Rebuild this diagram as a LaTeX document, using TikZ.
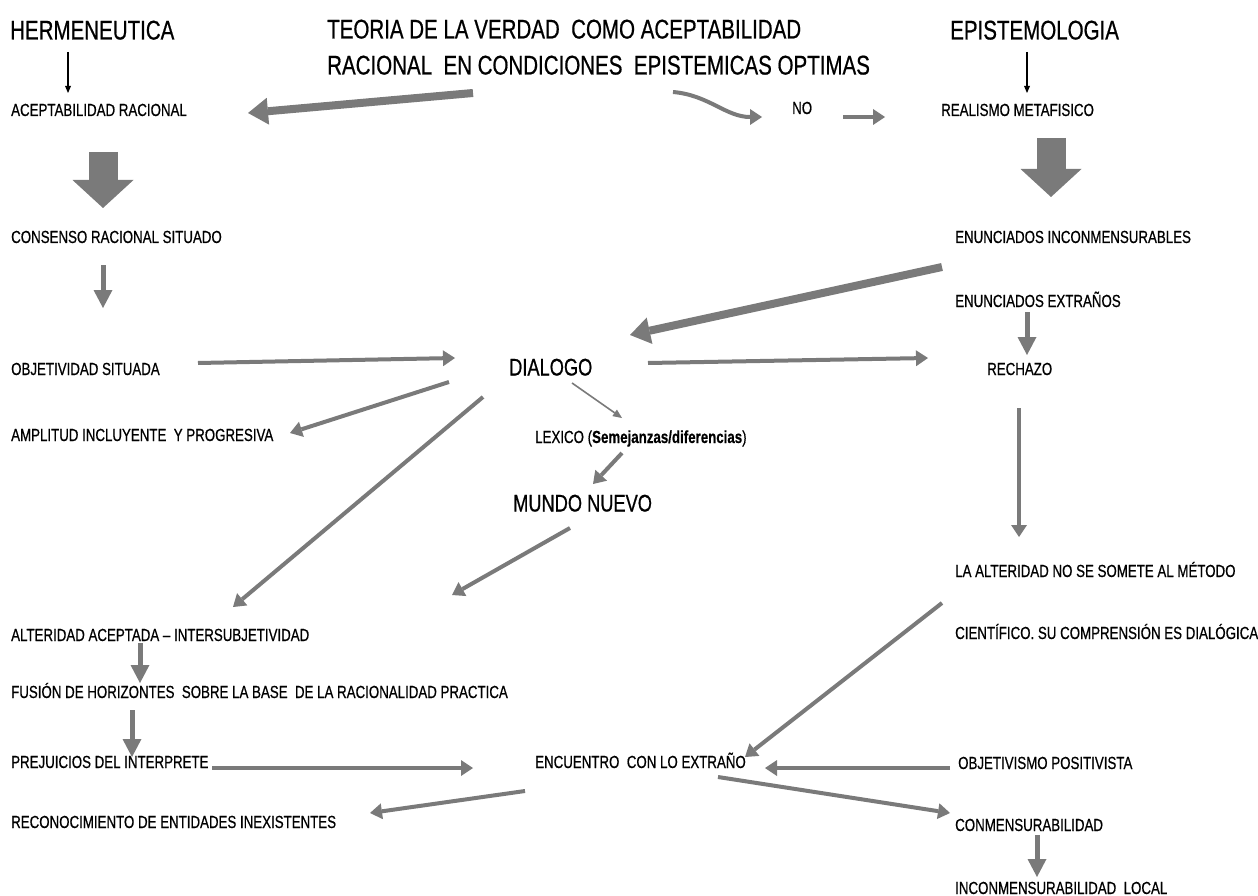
\documentclass[tikz,border=0pt]{standalone}
\usepackage{fontspec}
\setmainfont{Liberation Sans}[FakeStretch=0.76, FakeBold=0.6]
\usepackage{tikz}
\usetikzlibrary{arrows.meta}
\definecolor{gris}{RGB}{122,122,122}
\tikzset{
	titulo/.style={anchor=west, inner sep=0pt, text height=19pt, text depth=0pt, font=\fontsize{27}{32}\selectfont},
	medio/.style={anchor=west, inner sep=0pt, text height=17pt, text depth=0pt, font=\fontsize{24}{28}\selectfont},
	etiq/.style={anchor=west, inner sep=0pt, text height=12pt, text depth=0pt, font=\fontsize{17.5}{20}\selectfont},
	negra/.style={draw=black, line width=1.3pt, -{Triangle[length=7pt,width=6pt,line width=0pt]}},
	fina/.style={draw=gris, line width=1.6pt, -{Triangle[length=9pt,width=8pt,line width=0pt]}},
	flecha/.style={draw=gris, line width=4pt, -{Triangle[length=12pt,width=16pt,line width=0pt]}},
	media/.style={draw=gris, line width=5pt, -{Triangle[length=18pt,width=19pt,line width=0pt]}},
	gruesa/.style={draw=gris, line width=8pt, -{Triangle[length=20pt,width=27pt,line width=0pt]}},
	bloque/.style={draw=gris, line width=29pt, -{Triangle[length=28pt,width=61pt,line width=0pt]}}
}
\begin{document}
\begin{tikzpicture}[x=1pt, y=-1pt]
\useasboundingbox (0,0) rectangle (1258,896);
\node[titulo] (herm) at (10,30) {HERMENEUTICA};
\node[titulo] (teoria) at (327,29) {TEORIA DE LA VERDAD\ \ COMO ACEPTABILIDAD};
\node[titulo] (teoriab) at (327,65) {RACIONAL\ \ EN CONDICIONES\ \ EPISTEMICAS OPTIMAS};
\node[titulo] (episte) at (950,30) {EPISTEMOLOGIA};

\node[etiq] (acept) at (11,110) {ACEPTABILIDAD RACIONAL};
\node[etiq] (consenso) at (11,237) {CONSENSO RACIONAL SITUADO};
\node[etiq] (objet) at (11,369) {OBJETIVIDAD SITUADA};
\node[etiq] (amplitud) at (11,435) {AMPLITUD INCLUYENTE\ \ Y PROGRESIVA};
\node[etiq] (alterac) at (11,635) {ALTERIDAD ACEPTADA -- INTERSUBJETIVIDAD};
\node[etiq] (fusion) at (11,692) {FUSIÓN DE HORIZONTES\ \ SOBRE LA BASE\ \ DE LA RACIONALIDAD PRACTICA};
\node[etiq] (prejuicios) at (11,762) {PREJUICIOS DEL INTERPRETE};
\node[etiq] (reconoc) at (11,822) {RECONOCIMIENTO DE ENTIDADES INEXISTENTES};

\node[medio] (dialogo) at (509,367) {DIALOGO};
\node[etiq] (lexico) at (535,437) {LEXICO (\textbf{Semejanzas/diferencias})};
\node[medio] (mundo) at (513,503) {MUNDO NUEVO};
\node[etiq] (encuentro) at (535,762) {ENCUENTRO\ \ CON LO EXTRAÑO};

\node[etiq] (no) at (792,108) {NO};
\node[etiq] (realismo) at (941,110) {REALISMO METAFISICO};
\node[etiq] (enuninc) at (955,237) {ENUNCIADOS INCONMENSURABLES};
\node[etiq] (enunext) at (955,301) {ENUNCIADOS EXTRAÑOS};
\node[etiq] (rechazo) at (987,369) {RECHAZO};
\node[etiq] (alteridad) at (955,571) {LA ALTERIDAD NO SE SOMETE AL MÉTODO};
\node[etiq] (cientifico) at (955,633) {CIENTÍFICO. SU COMPRENSIÓN ES DIALÓGICA};
\node[etiq] (objetivismo) at (958,763) {OBJETIVISMO POSITIVISTA};
\node[etiq] (conmens) at (955,825) {CONMENSURABILIDAD};
\node[etiq] (inconm) at (955,888) {INCONMENSURABILIDAD\ \ LOCAL};

\draw[negra] ([shift={(58,22)}]herm.west) -- ([shift={(57,-17)}]acept.west);
\draw[negra] ([shift={(77,22)}]episte.west) -- ([shift={(86,-17)}]realismo.west);
\draw[gruesa] ([shift={(146,28)}]teoriab.west) -- ([shift={(237,3)}]acept.west);
\draw[flecha] ([shift={(346,27)}]teoriab.west) to[out=-5,in=180] ([shift={(-30,9)}]no.west);
\draw[flecha] ([shift={(51,9)}]no.west) -- ([shift={(-56,7)}]realismo.west);
\draw[bloque] ([shift={(92,42)}]acept.west) -- ([shift={(92,-29)}]consenso.west);
\draw[bloque] ([shift={(110,28)}]realismo.west) -- ([shift={(96,-40)}]enuninc.west);
\draw[media] ([shift={(92,28)}]consenso.west) -- ([shift={(92,-61)}]objet.west);
\draw[flecha] ([shift={(187,-6)}]objet.west) -- ([shift={(-54,-9)}]dialogo.west);
\draw[flecha] ([shift={(-60,15)}]dialogo.west) -- ([shift={(279,-2)}]amplitud.west);
\draw[flecha] ([shift={(-26,30)}]dialogo.west) -- ([shift={(222,-28)}]alterac.west);
\draw[fina] ([shift={(63,16)}]dialogo.west) -- ([shift={(87,-19)}]lexico.west);
\draw[flecha] ([shift={(87,16)}]lexico.west) -- ([shift={(80,-19)}]mundo.west);
\draw[flecha] ([shift={(57,25)}]mundo.west) -- ([shift={(441,-40)}]alterac.west);
\draw[gruesa] ([shift={(-13,30)}]enuninc.west) -- ([shift={(121,-32)}]dialogo.west);
\draw[flecha] ([shift={(139,-4)}]dialogo.west) -- ([shift={(-59,-11)}]rechazo.west);
\draw[media] ([shift={(72,11)}]enunext.west) -- ([shift={(40,-14)}]rechazo.west);
\draw[flecha] ([shift={(32,39)}]rechazo.west) -- ([shift={(32,-34)}]rechazo.west |- alteridad.west);
\draw[flecha] ([shift={(-13,-30)}]cientifico.west) -- ([shift={(210,-5)}]encuentro.west);
\draw[media] ([shift={(129,8)}]alterac.west) -- ([shift={(129,-9)}]fusion.west);
\draw[media] ([shift={(121,18)}]fusion.west) -- ([shift={(121,-5)}]prejuicios.west);
\draw[flecha] ([shift={(201,6)}]prejuicios.west) -- ([shift={(-62,6)}]encuentro.west);
\draw[flecha] ([shift={(-8,5)}]objetivismo.west) -- ([shift={(230,6)}]encuentro.west);
\draw[flecha] ([shift={(-10,29)}]encuentro.west) -- ([shift={(359,-9)}]reconoc.west);
\draw[flecha] ([shift={(183,15)}]encuentro.west) -- ([shift={(-5,-12)}]conmens.west);
\draw[media] ([shift={(82,10)}]conmens.west) -- ([shift={(82,-11)}]inconm.west);
\end{tikzpicture}
\end{document}
